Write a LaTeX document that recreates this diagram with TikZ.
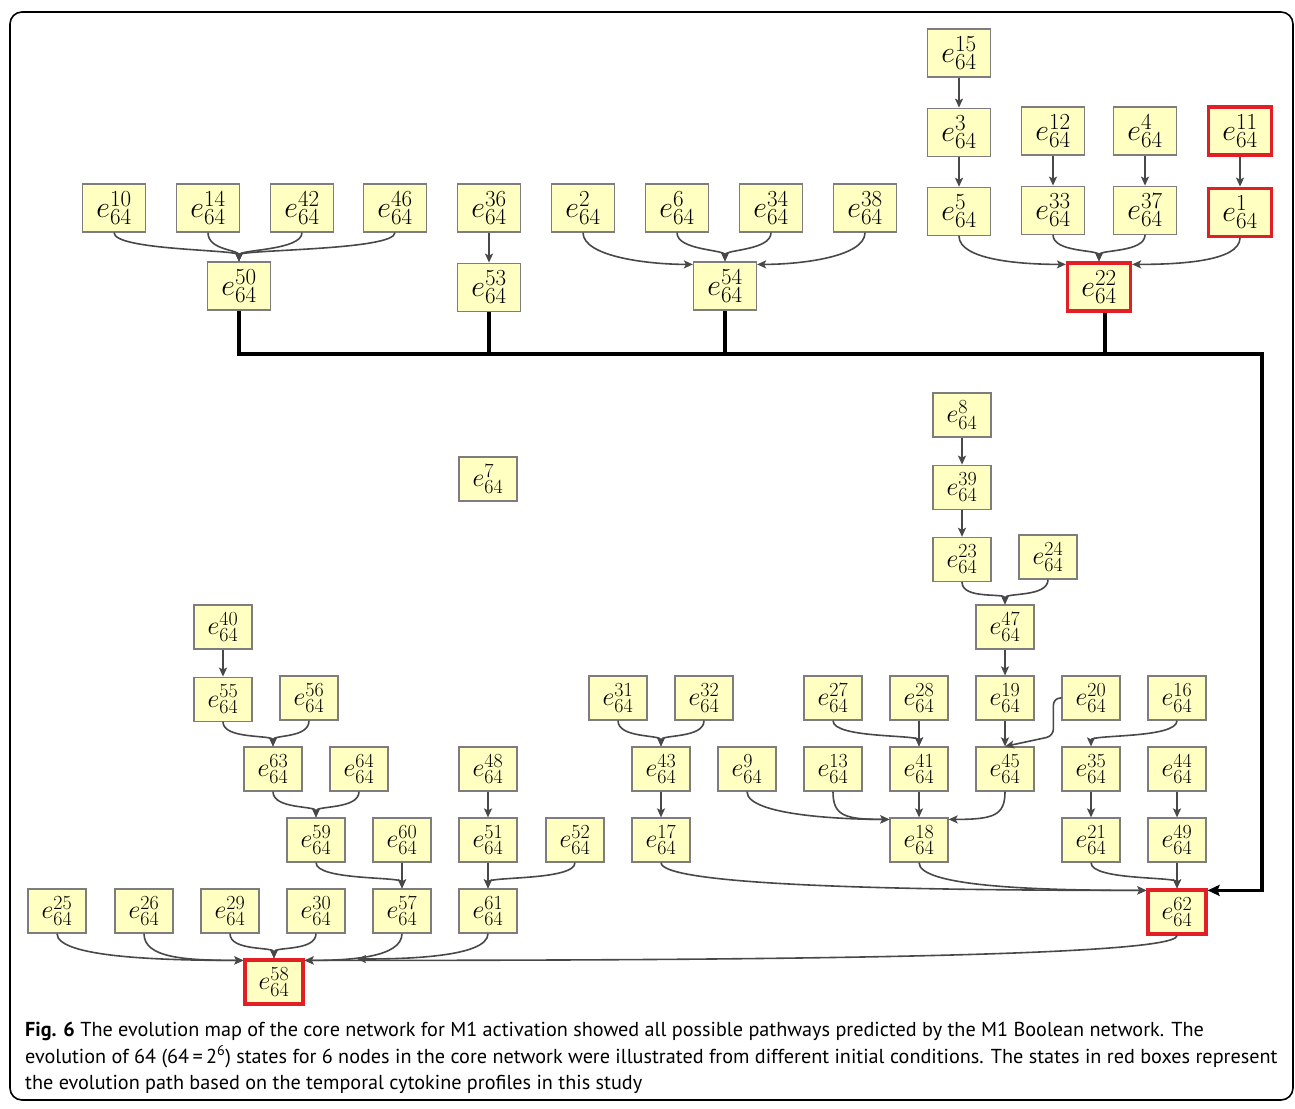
\RequirePackage{fix-cm}
\documentclass[tikz,border=0pt]{standalone}
\usepackage{fontspec}
\setsansfont{PT Sans}
\DeclareMathSizes{30}{30}{23}{16}
\DeclareMathSizes{26}{26}{20}{14}
\usetikzlibrary{arrows.meta, positioning}
\definecolor{StateFill}{RGB}{255, 255, 194}
\definecolor{StateLine}{RGB}{125, 125, 125}
\definecolor{PathRed}{RGB}{226, 30, 38}
\definecolor{EdgeGray}{RGB}{72, 72, 72}

\begin{document}
\begin{tikzpicture}[x=1pt, y=-1pt, >={Stealth[length=9pt, width=8pt, inset=2pt]},
    state/.style={draw=StateLine, line width=1.2pt, fill=StateFill, minimum width=58pt, minimum height=44pt, inner sep=0pt, font=\fontsize{26}{30}\selectfont},
    topstate/.style={state, minimum width=63pt, minimum height=48pt, font=\fontsize{30}{34}\selectfont},
    redstate/.style={draw=PathRed, line width=3.2pt},
    flow/.style={->, draw=EdgeGray, line width=1.6pt},
    fan/.style={to path={.. controls +(0,18) and +(0,-12) .. (\tikztotarget)}},
    sidein/.style={to path={.. controls +(0,24) and +(#1,0) .. (\tikztotarget)}},
    bus/.style={->, >={Stealth[length=12pt, width=11pt, inset=2pt]}, line width=3.6pt, black}]
    \useasboundingbox (0,0) rectangle (1295,1108);
    \draw[line width=1.6pt, rounded corners=12pt] (10,12) rectangle (1293,1100);

    % upper block
    \node[topstate] (e15) at (959,53) {$e^{15}_{64}$};
    \node[topstate, below=30pt of e15] (e3) {$e^{3}_{64}$};
    \node[topstate, below=30pt of e3] (e5) {$e^{5}_{64}$};
    \node[topstate] (e12) at (1053,131) {$e^{12}_{64}$};
    \node[topstate, below=30pt of e12] (e33) {$e^{33}_{64}$};
    \node[topstate] (e4) at (1145,131) {$e^{4}_{64}$};
    \node[topstate, below=30pt of e4] (e37) {$e^{37}_{64}$};
    \node[topstate, redstate] (e11) at (1240,131) {$e^{11}_{64}$};
    \node[topstate, redstate, below=30pt of e11] (e1) {$e^{1}_{64}$};
    \node[topstate] (e10) at (114,208) {$e^{10}_{64}$};
    \node[topstate] (e14) at (208,208) {$e^{14}_{64}$};
    \node[topstate] (e42) at (302,208) {$e^{42}_{64}$};
    \node[topstate] (e46) at (395,208) {$e^{46}_{64}$};
    \node[topstate] (e36) at (489,208) {$e^{36}_{64}$};
    \node[topstate] (e2) at (583,208) {$e^{2}_{64}$};
    \node[topstate] (e6) at (677,208) {$e^{6}_{64}$};
    \node[topstate] (e34) at (771,208) {$e^{34}_{64}$};
    \node[topstate] (e38) at (865,208) {$e^{38}_{64}$};
    \node[topstate] (e50) at (239,286) {$e^{50}_{64}$};
    \node[topstate, below=30pt of e36] (e53) {$e^{53}_{64}$};
    \node[topstate] (e54) at (725,286) {$e^{54}_{64}$};
    \node[topstate, redstate] (e22) at (1099,287) {$e^{22}_{64}$};

    % lower block
    \node[state] (e7) at (488,479) {$e^{7}_{64}$};
    \node[state] (e8) at (962,415) {$e^{8}_{64}$};
    \node[state, below=27pt of e8] (e39) {$e^{39}_{64}$};
    \node[state, below=27pt of e39] (e23) {$e^{23}_{64}$};
    \node[state] (e24) at (1048,557) {$e^{24}_{64}$};
    \node[state] (e47) at (1005,627) {$e^{47}_{64}$};
    \node[state] (e40) at (223,627) {$e^{40}_{64}$};
    \node[state, below=27pt of e40] (e55) {$e^{55}_{64}$};
    \node[state] (e56) at (309,698) {$e^{56}_{64}$};
    \node[state] (e31) at (618,698) {$e^{31}_{64}$};
    \node[state] (e32) at (704,698) {$e^{32}_{64}$};
    \node[state] (e27) at (833,698) {$e^{27}_{64}$};
    \node[state] (e28) at (919,698) {$e^{28}_{64}$};
    \node[state] (e19) at (1005,698) {$e^{19}_{64}$};
    \node[state] (e20) at (1091,698) {$e^{20}_{64}$};
    \node[state] (e16) at (1177,698) {$e^{16}_{64}$};
    \node[state] (e63) at (273,769) {$e^{63}_{64}$};
    \node[state] (e64) at (359,769) {$e^{64}_{64}$};
    \node[state] (e48) at (488,769) {$e^{48}_{64}$};
    \node[state] (e43) at (661,769) {$e^{43}_{64}$};
    \node[state] (e9) at (747,769) {$e^{9}_{64}$};
    \node[state] (e13) at (833,769) {$e^{13}_{64}$};
    \node[state] (e41) at (919,769) {$e^{41}_{64}$};
    \node[state] (e45) at (1005,769) {$e^{45}_{64}$};
    \node[state] (e35) at (1091,769) {$e^{35}_{64}$};
    \node[state] (e44) at (1177,769) {$e^{44}_{64}$};
    \node[state] (e59) at (316,840) {$e^{59}_{64}$};
    \node[state] (e60) at (402,840) {$e^{60}_{64}$};
    \node[state] (e51) at (488,840) {$e^{51}_{64}$};
    \node[state] (e52) at (575,840) {$e^{52}_{64}$};
    \node[state] (e17) at (661,840) {$e^{17}_{64}$};
    \node[state] (e18) at (919,840) {$e^{18}_{64}$};
    \node[state] (e21) at (1091,840) {$e^{21}_{64}$};
    \node[state] (e49) at (1177,840) {$e^{49}_{64}$};
    \node[state] (e25) at (57,911) {$e^{25}_{64}$};
    \node[state] (e26) at (144,911) {$e^{26}_{64}$};
    \node[state] (e29) at (230,911) {$e^{29}_{64}$};
    \node[state] (e30) at (316,911) {$e^{30}_{64}$};
    \node[state] (e57) at (402,911) {$e^{57}_{64}$};
    \node[state] (e61) at (488,911) {$e^{61}_{64}$};
    \node[state, redstate] (e62) at (1177,912) {$e^{62}_{64}$};
    \node[state, redstate] (e58) at (274,982) {$e^{58}_{64}$};
    \coordinate (e61tip) at (357,959);

    % caption
    \node[anchor=north west, align=left, inner sep=0pt, font=\sffamily\fontsize{20.2}{26.5}\selectfont] (caption) at (25,1022)
        {\textbf{Fig. 6} The evolution map of the core network for M1 activation showed all possible pathways predicted by the M1 Boolean network. The\\
        evolution of 64 (64\,=\,2\textsuperscript{6}) states for 6 nodes in the core network were illustrated from different initial conditions. The states in red boxes represent\\
        the evolution path based on the temporal cytokine profiles in this study};

    % upper edges
    \draw[flow] (e15) -- (e3);
    \draw[flow] (e3) -- (e5);
    \draw[flow] (e12) -- (e33);
    \draw[flow] (e4) -- (e37);
    \draw[flow] (e11) -- (e1);
    \draw[flow] (e36) -- (e53);
    \draw[flow] (e10.south) to[fan] (e50.north);
    \draw[flow] (e14.south) to[fan] (e50.north);
    \draw[flow] (e42.south) to[fan] (e50.north);
    \draw[flow] (e46.south) to[fan] (e50.north);
    \draw[flow] (e2.south) to[sidein=-45] ([yshift=-3pt]e54.north west);
    \draw[flow] (e6.south) to[fan] (e54.north);
    \draw[flow] (e34.south) to[fan] (e54.north);
    \draw[flow] (e38.south) to[sidein=45] ([yshift=-3pt]e54.north east);
    \draw[flow] (e5.south) to[sidein=-45] ([yshift=-3pt]e22.north west);
    \draw[flow] (e33.south) to[fan] (e22.north);
    \draw[flow] (e37.south) to[fan] (e22.north);
    \draw[flow] (e1.south) to[sidein=45] ([yshift=-3pt]e22.north east);

    % the path into the lower block
    \coordinate (busturn) at (1262,354);
    \draw[bus] (e50.south) |- (busturn) |- ([yshift=-2pt]e62.north east);
    \draw[line width=3.6pt] (e53.south) -- (e53.south |- busturn);
    \draw[line width=3.6pt] (e54.south) -- (e54.south |- busturn);
    \draw[line width=3.6pt] ([xshift=6pt]e22.south) -- ([xshift=6pt]e22.south |- busturn);

    % lower edges
    \draw[flow] (e8) -- (e39);
    \draw[flow] (e39) -- (e23);
    \draw[flow] (e23.south) to[fan] (e47.north);
    \draw[flow] (e24.south) to[fan] (e47.north);
    \draw[flow] (e47) -- (e19);
    \draw[flow] (e19) -- (e45);
    \draw[flow, rounded corners=7pt] (e20.west) -| ++(-8,38) -- (e45.north);
    \draw[flow] (e27.south) to[fan] (e41.north);
    \draw[flow] (e28) -- (e41);
    \draw[flow] (e16.south) to[fan] (e35.north);
    \draw[flow] (e31.south) to[fan] (e43.north);
    \draw[flow] (e32.south) to[fan] (e43.north);
    \draw[flow] (e43) -- (e17);
    \draw[flow] (e9.south) to[sidein=-45] ([yshift=-2pt]e18.north west);
    \draw[flow] (e13.south) to[sidein=-45] ([yshift=-2pt]e18.north west);
    \draw[flow] (e41) -- (e18);
    \draw[flow] (e45.south) to[sidein=45] ([yshift=-2pt]e18.north east);
    \draw[flow] (e35) -- (e21);
    \draw[flow] (e44) -- (e49);
    \draw[flow] (e17.south) to[sidein=-220] ([yshift=-2pt]e62.north west);
    \draw[flow] (e18.south) to[sidein=-110] ([yshift=-2pt]e62.north west);
    \draw[flow] (e21.south) to[fan] (e62.north);
    \draw[flow] (e49) -- (e62);
    \draw[flow] (e40) -- (e55);
    \draw[flow] (e55.south) to[fan] (e63.north);
    \draw[flow] (e56.south) to[fan] (e63.north);
    \draw[flow] (e63.south) to[fan] (e59.north);
    \draw[flow] (e64.south) to[fan] (e59.north);
    \draw[flow] (e59.south) to[fan] (e57.north);
    \draw[flow] (e60) -- (e57);
    \draw[flow] (e48) -- (e51);
    \draw[flow] (e51) -- (e61);
    \draw[flow] (e52.south) to[fan] (e61.north);
    \draw[flow] (e25.south) to[sidein=-80] ([yshift=-2pt]e58.north west);
    \draw[flow] (e26.south) to[sidein=-60] ([yshift=-2pt]e58.north west);
    \draw[flow] (e29.south) to[fan] (e58.north);
    \draw[flow] (e30.south) to[fan] (e58.north);
    \draw[flow] (e57.south) to[sidein=45] ([yshift=-2pt]e58.north east);
    \draw[flow] (e61.south) to[sidein=45] (e61tip);
    \draw[flow] (e62.south) to[sidein=320] ([yshift=-2pt]e58.north east);
\end{tikzpicture}
\end{document}
